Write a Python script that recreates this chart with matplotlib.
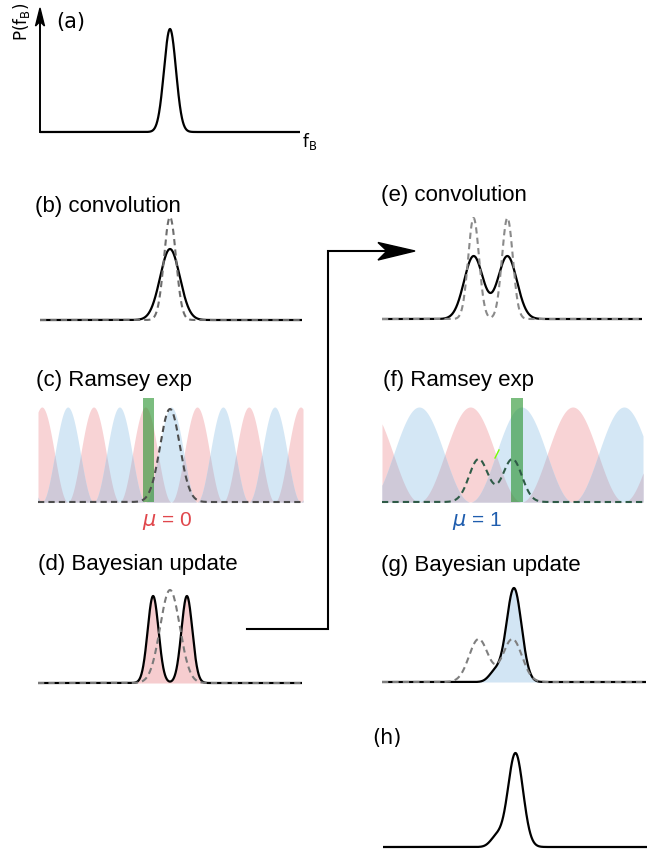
import numpy as np
import matplotlib
matplotlib.use("Agg")
import matplotlib.pyplot as plt
from matplotlib.patches import Polygon
from matplotlib.lines import Line2D

W, H, DPI = 658, 854, 100

# ---------------- data (frequency f_B in arbitrary units, 0 = prior centre) ----------
prior_center = 0.0
prior_sigma = 0.23
kernel_sigma = 0.30
post0_centers = [-0.65, 0.65]
post0_weights = [0.5, 0.5]
post0_sigma = 0.21
post1_centers = [0.71, -0.02]      # main peak and left shoulder of the final posterior
post1_sigmas = [0.29, 0.23]
post1_amps = [1.0, 0.106]
ramsey1_period = 1.99
ramsey1_red_peak = 1.04
ramsey2_period = 3.94
ramsey2_blue_peak = 1.0
meas1_band = [-1.05, -0.60]
meas2_band = [0.60, 1.05]
outcome_labels = [r"$\mu$ = 0", r"$\mu$ = 1"]
panel_titles = ["(a)", "(b) convolution", "(c) Ramsey exp", "(d) Bayesian update",
                "(e) convolution", "(f) Ramsey exp", "(g) Bayesian update", "(h)"]
# peak heights (same arbitrary units in every panel)
height_a = 103
heights_b = [103, 71]      # dashed prior, solid convolved
heights_c = [93, 95]       # dashed prior, fringe maximum
heights_d = [93, 87]       # dashed prior, solid posterior
heights_e = [101, 63]
heights_f = [43, 95]
heights_g = [43, 94]
height_h = 94

# ---------------- colours ----------------
RED_FILL, BLUE_FILL, MIX_FILL = "#F8D3D5", "#D4E7F5", "#CFC9D8"
POST_RED, POST_BLUE = "#F6CDCF", "#D2E5F4"
GREEN = "#23912a"
MU_RED, MU_BLUE = "#E0474C", "#1F5DAE"
SANS = ["Liberation Sans", "DejaVu Sans"]
DV = ["DejaVu Sans"]

fig = plt.figure(figsize=(W / DPI, H / DPI), dpi=DPI)
PXU = 26.0  # pixels per frequency unit


def px2fig(x, y):
    return x / W, 1 - y / H


def make_ax(x0, x1, base, cx, h=125):
    ax = fig.add_axes([x0 / W, 1 - base / H, (x1 - x0) / W, h / H])
    ax.set_xlim((x0 - cx) / PXU, (x1 - cx) / PXU)
    ax.set_ylim(0, h)
    ax.axis("off")
    return ax


def gauss(x, mu, s):
    return np.exp(-0.5 * ((x - mu) / s) ** 2) / s


def mixture(x, centers, weights, s):
    return sum(w * gauss(x, c, s) for c, w in zip(centers, weights))


def amp_mixture(x, centers, sigmas, amps):
    return sum(a * np.exp(-0.5 * ((x - c) / s) ** 2) for c, s, a in zip(centers, sigmas, amps))


def unit(y):
    return y / y.max()


def xs(ax):
    a, b = ax.get_xlim()
    return np.linspace(a, b, 1200)


solid_kw = dict(color="black", lw=1.6, solid_capstyle="butt", clip_on=False)


def dashed_kw(c):
    return dict(color=c, lw=1.5, ls=(0, (3, 2)), clip_on=False)


def fringes(ax, x, red, height):
    blue = 1 - red
    ax.fill_between(x, 0, height * red, color=RED_FILL, lw=0)
    ax.fill_between(x, 0, height * blue, color=BLUE_FILL, lw=0)
    ax.fill_between(x, 0, height * np.minimum(red, blue), color=MIX_FILL, lw=0)


sig_conv = np.hypot(prior_sigma, kernel_sigma)
sig_post_conv = np.hypot(post0_sigma, kernel_sigma)

# ---------------- (a) ----------------
ax = make_ax(40, 300, 133, 170)
x = xs(ax)
ax.plot(x, height_a * unit(gauss(x, prior_center, prior_sigma)), **solid_kw)
ax.plot([x[0], x[0]], [0, 112], color="black", lw=1.4, clip_on=False)
fig.add_artist(Polygon([px2fig(40, 9), px2fig(35.5, 27), px2fig(40, 22.5), px2fig(44.5, 27)],
                       closed=True, color="black", transform=fig.transFigure))

# ---------------- (b) ----------------
ax = make_ax(40, 302, 321, 170)
x = xs(ax)
ax.plot(x, heights_b[1] * unit(gauss(x, prior_center, sig_conv)), **solid_kw)
ax.plot(x, heights_b[0] * unit(gauss(x, prior_center, prior_sigma)), **dashed_kw("#6e6e6e"))

# ---------------- (c) ----------------
ax = make_ax(38, 303, 503, 170)
x = xs(ax)
red1 = (1 + np.cos(2 * np.pi * (x - ramsey1_red_peak) / ramsey1_period)) / 2
fringes(ax, x, red1, heights_c[1])
ax.fill_between(meas1_band, 0, 104, color=GREEN, alpha=0.6, lw=0)
ax.plot(x, heights_c[0] * unit(gauss(x, prior_center, sig_conv)), **dashed_kw("#4d4d4d"))

# ---------------- (d) ----------------
ax = make_ax(38, 302, 684, 170)
x = xs(ax)
post0 = heights_d[1] * unit(mixture(x, post0_centers, post0_weights, post0_sigma))
ax.fill_between(x, 0, post0, color=POST_RED, lw=0)
ax.plot(x, post0, **solid_kw)
ax.plot(x, heights_d[0] * unit(gauss(x, prior_center, sig_conv)), **dashed_kw("#7a7a7a"))

# ---------------- (e) ----------------
ax = make_ax(382, 642, 320, 490.5)
x = xs(ax)
ax.plot(x, heights_e[1] * unit(mixture(x, post0_centers, post0_weights, sig_post_conv)), **solid_kw)
ax.plot(x, heights_e[0] * unit(mixture(x, post0_centers, post0_weights, post0_sigma)),
        **dashed_kw("#8a8a8a"))

# ---------------- (f) ----------------
ax = make_ax(382, 643, 503, 495.5)
x = xs(ax)
blue2 = (1 + np.cos(2 * np.pi * (x - ramsey2_blue_peak) / ramsey2_period)) / 2
fringes(ax, x, 1 - blue2, heights_f[1])
ax.fill_between(meas2_band, 0, 104, color=GREEN, alpha=0.6, lw=0)
prior2 = mixture(x, post0_centers, post0_weights, sig_post_conv)
ax.plot(x, heights_f[0] * unit(prior2), **dashed_kw("#2f5b47"))

# ---------------- (g) ----------------
ax = make_ax(382, 646, 683, 495.5)
x = xs(ax)
prior2 = mixture(x, post0_centers, post0_weights, sig_post_conv)
post1 = heights_g[1] * unit(amp_mixture(x, post1_centers, post1_sigmas, post1_amps))
ax.fill_between(x, 0, post1, color=POST_BLUE, lw=0)
ax.plot(x, post1, **solid_kw)
ax.plot(x, heights_g[0] * unit(prior2), **dashed_kw("#7f7f7f"))

# ---------------- (h) ----------------
ax = make_ax(383, 647, 848, 497)
x = xs(ax)
ax.plot(x, height_h * unit(amp_mixture(x, post1_centers, post1_sigmas, post1_amps)), **solid_kw)

# ---------------- connecting arrow ----------------
path = [(246.7, 630), (327.5, 630), (327.5, 252), (390, 252)]
fx, fy = zip(*[px2fig(*p) for p in path])
fig.add_artist(Line2D(fx, fy, color="black", lw=1.5, solid_joinstyle="miter",
                      transform=fig.transFigure))
fig.add_artist(Polygon([px2fig(415, 252), px2fig(378, 243.5), px2fig(387, 252),
                        px2fig(378, 261)], closed=True, color="black",
                       transform=fig.transFigure))
fig.add_artist(Line2D([495 / W, 499 / W], [1 - 459 / H, 1 - 451 / H], color="#7CFC00",
                      lw=1.0, transform=fig.transFigure))


# ---------------- texts ----------------
def ftext(x, y, s, **kw):
    fx, fy = px2fig(x, y)
    fig.text(fx, fy, s, **kw)


ftext(56, 22, panel_titles[0], family=DV, fontsize=15, va="center", ha="left")
ftext(372, 738, panel_titles[7], family=DV, fontsize=15, va="center", ha="left")
ftext(22, 22, r"P(f$_\mathregular{B}$)", family=DV, fontsize=12, va="center",
      ha="center", rotation=90)
ftext(302, 142, r"f$_\mathregular{B}$", family=DV, fontsize=12, va="center", ha="left")

title_pos = [(35, 207), (36, 381), (38, 565), (381, 195), (383, 381), (381, 566)]
for (tx, ty), s in zip(title_pos, panel_titles[1:7]):
    ftext(tx, ty, s, family=SANS, fontsize=16, va="center", ha="left")

ftext(167, 521, outcome_labels[0], family=SANS, fontsize=15, color=MU_RED,
      va="center", ha="center")
ftext(477, 521, outcome_labels[1], family=SANS, fontsize=15, color=MU_BLUE,
      va="center", ha="center")

fig.savefig("out.png", dpi=DPI)
